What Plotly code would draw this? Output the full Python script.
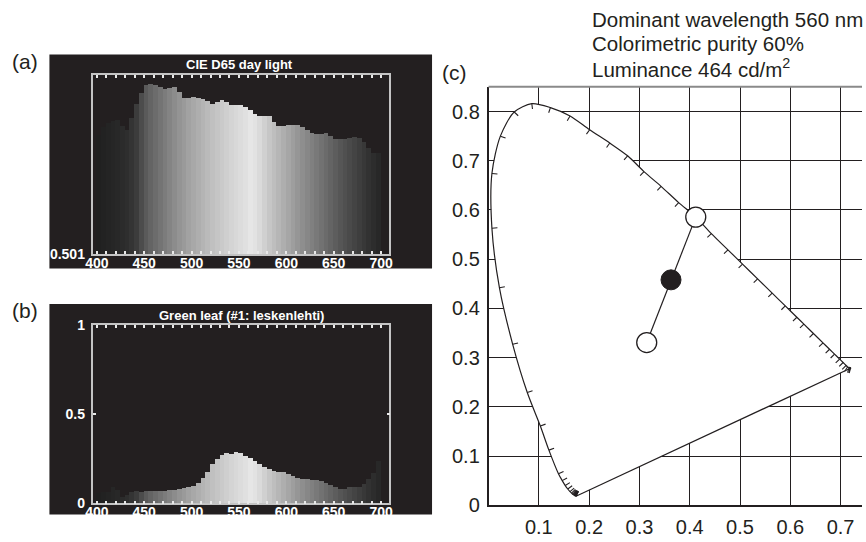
import math
import plotly.graph_objects as go

# ---------------- data: panels (a) and (b) ----------------
band_start_nm = list(range(400, 700, 5))  # 5 nm bands 400..700

d65_rel = [0.700, 0.748, 0.771, 0.786, 0.790, 0.752, 0.733, 0.801, 0.884, 0.947,
           0.994, 1.000, 0.994, 0.985, 0.975, 0.979, 0.985, 0.953, 0.922, 0.922,
           0.928, 0.922, 0.915, 0.903, 0.886, 0.896, 0.909, 0.896, 0.881, 0.881,
           0.877, 0.866, 0.847, 0.828, 0.814, 0.814, 0.814, 0.777, 0.752, 0.752,
           0.761, 0.761, 0.758, 0.748, 0.733, 0.714, 0.710, 0.710, 0.714, 0.695,
           0.676, 0.676, 0.680, 0.686, 0.691, 0.682, 0.663, 0.625, 0.593, 0.593]

leaf_refl = [0.060, 0.065, 0.062, 0.092, 0.078, 0.036, 0.050, 0.062, 0.072, 0.066,
             0.068, 0.068, 0.068, 0.070, 0.072, 0.076, 0.076, 0.081, 0.086, 0.095,
             0.099, 0.113, 0.144, 0.177, 0.220, 0.247, 0.270, 0.285, 0.279, 0.288,
             0.283, 0.267, 0.256, 0.238, 0.220, 0.207, 0.195, 0.184, 0.177, 0.175,
             0.166, 0.153, 0.144, 0.139, 0.135, 0.131, 0.131, 0.126, 0.113, 0.102,
             0.093, 0.084, 0.084, 0.090, 0.090, 0.090, 0.108, 0.135, 0.171, 0.240]

band_gray = [32, 34, 36, 38, 40, 43, 46, 52, 60, 76,
             90, 100, 108, 116, 124, 132, 140, 148, 154, 162,
             168, 174, 180, 186, 192, 197, 202, 207, 212, 216,
             220, 224, 230, 226, 218, 208, 198, 190, 182, 174,
             166, 158, 150, 142, 135, 128, 121, 114, 107, 100,
             93, 86, 80, 74, 68, 62, 56, 50, 45, 40]

x_major_nm = [400, 450, 500, 550, 600, 650, 700]

# ---------------- data: panel (c) chromaticity ----------------
locus_nm = [380, 385, 390, 395, 400, 405, 410, 415, 420, 425, 430, 435, 440, 445,
            450, 455, 460, 465, 470, 475, 480, 485, 490, 495, 500, 505, 510, 515,
            520, 525, 530, 535, 540, 545, 550, 555, 560, 565, 570, 575, 580, 585,
            590, 595, 600, 605, 610, 615, 620, 625, 630, 635, 640, 645, 650, 655,
            660, 700]
locus_x = [0.1738, 0.1736, 0.1734, 0.1732, 0.1729, 0.1726, 0.1722, 0.1717, 0.1711, 0.1704,
           0.1696, 0.1686, 0.1672, 0.1650, 0.1620, 0.1575, 0.1525, 0.1465, 0.1390, 0.1200,
           0.1030, 0.0770, 0.0480, 0.0216, 0.0067, 0.0067, 0.0235, 0.0510, 0.0860, 0.1230,
           0.1620, 0.2010, 0.2410, 0.2765, 0.3090, 0.3430, 0.3780, 0.4120, 0.4430, 0.4760,
           0.5050, 0.5350, 0.5640, 0.5900, 0.6130, 0.6270, 0.6460, 0.6650, 0.6780, 0.6880,
           0.6980, 0.7050, 0.7110, 0.7140, 0.7170, 0.7190, 0.7200, 0.7208]
locus_y = [0.0183, 0.0184, 0.0185, 0.0186, 0.0187, 0.0188, 0.0190, 0.0193, 0.0197, 0.0202,
           0.0208, 0.0215, 0.0225, 0.0245, 0.0275, 0.0330, 0.0400, 0.0500, 0.0640, 0.1120,
           0.1610, 0.2290, 0.3270, 0.4420, 0.5630, 0.6740, 0.7500, 0.7990, 0.8160, 0.8080,
           0.7910, 0.7630, 0.7360, 0.7100, 0.6780, 0.6480, 0.6150, 0.5855, 0.5520, 0.5190,
           0.4900, 0.4600, 0.4310, 0.4050, 0.3820, 0.3680, 0.3490, 0.3300, 0.3170, 0.3070,
           0.2970, 0.2900, 0.2840, 0.2810, 0.2800, 0.2795, 0.2792, 0.2790]

white_point = (0.3145, 0.3306)      # D65 white
sample_point = (0.3628, 0.4580)     # measured colour
dominant_point = (0.4120, 0.5855)   # spectral point at dominant wavelength

x3_ticks = [0.1, 0.2, 0.3, 0.4, 0.5, 0.6, 0.7]
y3_ticks = [0, 0.1, 0.2, 0.3, 0.4, 0.5, 0.6, 0.7, 0.8]
y3_text = ["0", "0.1", "0.2", "0.3", "0.4", "0.5", "0.6", "0.7", "0.8"]

info_lines = ["Dominant wavelength 560 nm", "Colorimetric purity 60%",
              "Luminance 464 cd/m<sup>2</sup>"]

# ---------------- layout geometry (pixels) ----------------
W, H = 866, 542
DARK = "#231f20"
FONT = "Liberation Sans, Arial, sans-serif"


def px(x):
    return x / W


def py(y):
    return 1 - y / H


fig = go.Figure()

bar_x = [s + 2.5 for s in band_start_nm]
bar_cols = [f"rgb({g},{g},{g})" for g in band_gray]

fig.add_trace(go.Bar(x=bar_x, y=d65_rel, width=5, marker=dict(color=bar_cols, line=dict(width=0)),
                     xaxis="x", yaxis="y", showlegend=False, hoverinfo="skip"))
fig.add_trace(go.Bar(x=bar_x, y=leaf_refl, width=5, marker=dict(color=bar_cols, line=dict(width=0)),
                     xaxis="x2", yaxis="y2", showlegend=False, hoverinfo="skip"))

# chromaticity: white-filled locus (hides grid inside)
fig.add_trace(go.Scatter(x=locus_x, y=locus_y, mode="lines", fill="toself", fillcolor="white",
                         line=dict(color=DARK, width=1.2, shape="spline", smoothing=0.8),
                         xaxis="x3", yaxis="y3", showlegend=False, hoverinfo="skip"))
# purple line
fig.add_trace(go.Scatter(x=[locus_x[-1], locus_x[0]], y=[locus_y[-1], locus_y[0]], mode="lines",
                         line=dict(color=DARK, width=1.2), xaxis="x3", yaxis="y3",
                         showlegend=False, hoverinfo="skip"))
# wavelength ticks, pointing inward
TICK = 0.011
tx, ty = [], []
n = len(locus_x)
for i in range(n):
    if locus_nm[i] in (565, 700):
        continue
    i0, i1 = max(i - 1, 0), min(i + 1, n - 1)
    dx, dy = locus_x[i1] - locus_x[i0], locus_y[i1] - locus_y[i0]
    L = math.hypot(dx, dy)
    nx, ny = -dy / L, dx / L
    if nx * (white_point[0] - locus_x[i]) + ny * (white_point[1] - locus_y[i]) < 0:
        nx, ny = -nx, -ny
    tx += [locus_x[i], locus_x[i] + TICK * nx, None]
    ty += [locus_y[i], locus_y[i] + TICK * ny, None]
fig.add_trace(go.Scatter(x=tx, y=ty, mode="lines", line=dict(color=DARK, width=1.1),
                         xaxis="x3", yaxis="y3", showlegend=False, hoverinfo="skip"))
# line white -> dominant
fig.add_trace(go.Scatter(x=[white_point[0], dominant_point[0]], y=[white_point[1], dominant_point[1]],
                         mode="lines", line=dict(color=DARK, width=1.2), xaxis="x3", yaxis="y3",
                         showlegend=False, hoverinfo="skip"))
fig.add_trace(go.Scatter(x=[white_point[0], dominant_point[0]], y=[white_point[1], dominant_point[1]],
                         mode="markers", marker=dict(size=20, color="white", line=dict(color=DARK, width=1.3)),
                         xaxis="x3", yaxis="y3", showlegend=False, hoverinfo="skip"))
fig.add_trace(go.Scatter(x=[sample_point[0]], y=[sample_point[1]], mode="markers",
                         marker=dict(size=20, color=DARK, line=dict(color=DARK, width=1)),
                         xaxis="x3", yaxis="y3", showlegend=False, hoverinfo="skip"))

frame_col = "#c4c4c4"
tickfont_ab = dict(family=FONT, size=14, color="white")
bold = lambda s: f"<b>{s}</b>"

common_x = dict(range=[396.5, 708.7], tickvals=x_major_nm, ticktext=[bold(v) for v in x_major_nm],
                ticks="inside", ticklen=3, tickwidth=1.5, tickcolor="#e8e8e8",
                minor=dict(dtick=10, tick0=400, ticks="inside", ticklen=3, tickwidth=1.5,
                           tickcolor="#e8e8e8", showgrid=False),
                showline=True, mirror="ticks", linecolor=frame_col, linewidth=1.5,
                showgrid=False, zeroline=False, tickfont=tickfont_ab, ticklabelstandoff=-5)

fig.update_layout(
    width=W, height=H, margin=dict(l=0, r=0, t=0, b=0),
    paper_bgcolor="white", plot_bgcolor="rgba(0,0,0,0)", bargap=0, showlegend=False,
    xaxis=dict(domain=[px(86.7), px(386.7)], anchor="y", **common_x),
    yaxis=dict(domain=[py(255), py(69.3)], anchor="x", range=[0, 1.055], tickvals=[0],
               ticktext=[bold("0.501")], ticks="", showline=True, mirror=True, linecolor=frame_col,
               linewidth=1.5, showgrid=False, zeroline=False, tickfont=tickfont_ab,
               ticklabelstandoff=4),
    xaxis2=dict(domain=[px(86.7), px(386.7)], anchor="y2", **common_x),
    yaxis2=dict(domain=[py(513.3), py(328.3)], anchor="x2", range=[0, 1], tickvals=[0, 0.5, 1],
                ticktext=[bold("0"), bold("0.5"), bold("1")], ticks="inside", ticklen=3, tickwidth=1.5,
                tickcolor="#e8e8e8", showline=True, mirror="ticks", linecolor=frame_col,
                linewidth=1.5, showgrid=False, zeroline=False, tickfont=tickfont_ab,
                ticklabelstandoff=4),
    xaxis3=dict(domain=[px(487.3), 1], anchor="y3", range=[0, (W - 487.3) / 510],
                tickvals=x3_ticks, ticks="", showgrid=True, gridcolor=DARK, gridwidth=1,
                showline=True, linecolor=DARK, linewidth=1.5, zeroline=False,
                tickfont=dict(family=FONT, size=20, color=DARK), ticklabelstandoff=3),
    yaxis3=dict(domain=[py(515.3), py(81.7)], anchor="x3", range=[0, (515.3 - 81.7) / 510],
                tickvals=y3_ticks, ticktext=y3_text, ticks="", showgrid=True, gridcolor=DARK,
                gridwidth=1, showline=True, linecolor=DARK, linewidth=1.5, zeroline=False,
                tickfont=dict(family=FONT, size=20, color=DARK), ticklabelstandoff=3),
)

shapes = [
    dict(type="rect", xref="paper", yref="paper", x0=px(42), x1=px(430), y0=py(270), y1=py(48.3),
         fillcolor=DARK, line=dict(width=0), layer="below"),
    dict(type="rect", xref="paper", yref="paper", x0=px(42), x1=px(430), y0=py(525), y1=py(306.7),
         fillcolor=DARK, line=dict(width=0), layer="below"),
    dict(type="line", xref="paper", yref="paper", x0=px(487.3), x1=1, y0=py(81.7), y1=py(81.7),
         line=dict(color="#8a8a8a", width=2)),
]
fig.update_layout(shapes=shapes)

ann = [
    dict(text=bold("CIE D65 day light"), x=px(235), y=py(58.3), font=dict(family=FONT, size=13, color="white")),
    dict(text=bold("Green leaf (#1: leskenlehti)"), x=px(236.7), y=py(318.3), font=dict(family=FONT, size=13, color="white")),
    dict(text="(a)", x=px(2), y=py(55), xanchor="left", font=dict(family=FONT, size=21, color=DARK)),
    dict(text="(b)", x=px(2), y=py(313), xanchor="left", font=dict(family=FONT, size=21, color=DARK)),
    dict(text="(c)", x=px(438), y=py(67), xanchor="left", font=dict(family=FONT, size=21, color=DARK)),
]
for k, line in enumerate(info_lines):
    ann.append(dict(text=line, x=px(590), y=py(12 + 25 * k), xanchor="left",
                    font=dict(family=FONT, size=20.5, color=DARK)))
for a in ann:
    a.setdefault("xanchor", "center")
    a.update(xref="paper", yref="paper", yanchor="middle", showarrow=False)
fig.update_layout(annotations=ann)

fig.write_html("out.html")
